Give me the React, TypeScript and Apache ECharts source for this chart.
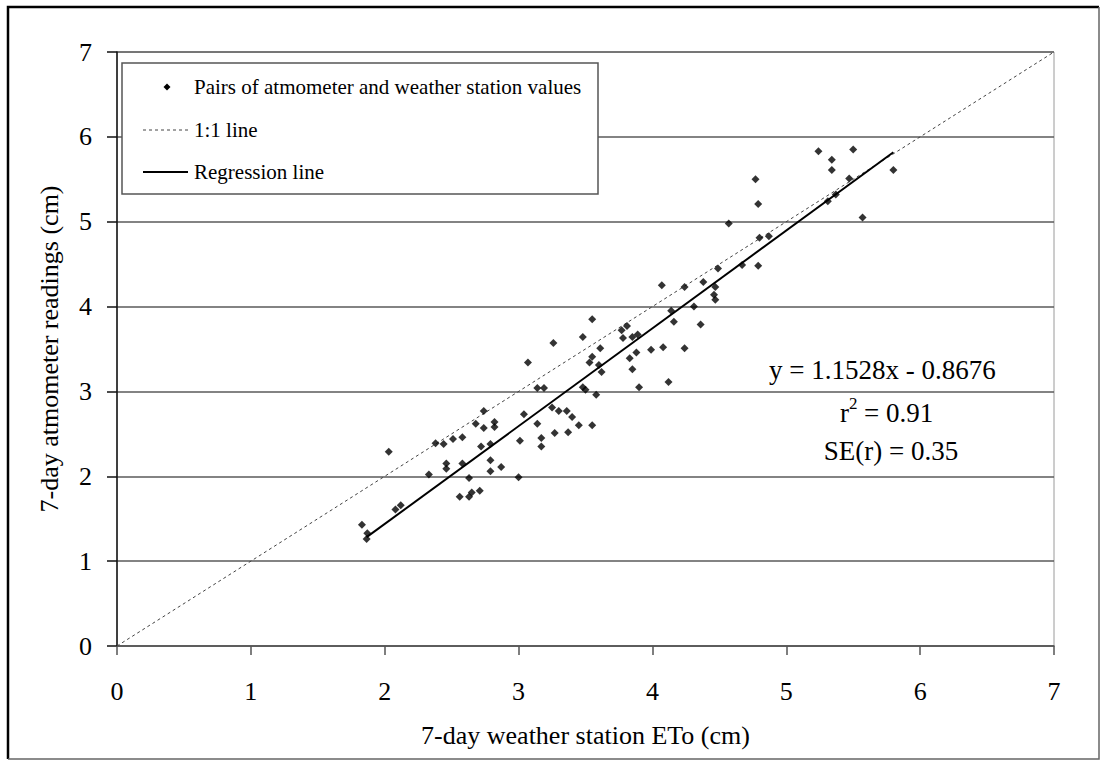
import React, { useEffect, useRef } from "react";
import * as echarts from "echarts";

// 7-day weather station ETo (cm)
const stationEto = [
  2.03, 1.83, 1.87, 1.865, 2.08, 2.12, 2.33, 2.38, 2.44, 2.46,
  2.46, 2.51, 2.58, 2.58, 2.56, 2.63, 2.63, 2.65, 2.71, 2.68,
  2.74, 2.74, 2.72, 2.79, 2.79, 2.79, 2.82, 2.82, 2.87, 3.0,
  3.01, 3.04, 3.14, 3.17, 3.17, 3.27, 3.14, 3.19, 3.25, 3.3,
  3.36, 3.37, 3.4, 3.45, 3.55, 3.55, 3.48, 3.77, 3.81, 3.78,
  3.61, 3.55, 3.53, 3.6, 3.62, 3.85, 3.89, 3.88, 3.83, 3.85,
  3.99, 4.08, 4.24, 4.12, 3.9, 3.48, 3.5, 3.58, 4.14, 4.16,
  4.31, 4.36, 4.47, 3.07, 3.26, 4.07, 4.24, 4.38, 4.47, 4.46,
  4.49, 4.57, 5.24, 5.5, 5.34, 5.34, 5.8, 4.77, 4.79, 5.47,
  5.37, 5.31, 5.57, 4.8, 4.87, 4.67, 4.79,
];
// 7-day atmometer readings (cm)
const atmometer = [
  2.29, 1.43, 1.33, 1.26, 1.61, 1.66, 2.02, 2.39, 2.38, 2.15,
  2.09, 2.44, 2.46, 2.15, 1.76, 1.98, 1.76, 1.81, 1.83, 2.62,
  2.77, 2.57, 2.35, 2.38, 2.19, 2.06, 2.64, 2.58, 2.11, 1.99,
  2.42, 2.73, 2.62, 2.45, 2.35, 2.51, 3.04, 3.04, 2.81, 2.77,
  2.77, 2.52, 2.7, 2.6, 2.6, 3.85, 3.64, 3.72, 3.77, 3.63,
  3.51, 3.41, 3.34, 3.31, 3.23, 3.64, 3.67, 3.46, 3.39, 3.26,
  3.49, 3.52, 3.51, 3.11, 3.05, 3.05, 3.02, 2.96, 3.95, 3.82,
  4.0, 3.79, 4.08, 3.34, 3.57, 4.25, 4.23, 4.29, 4.23, 4.14,
  4.45, 4.98, 5.83, 5.85, 5.73, 5.61, 5.61, 5.5, 5.21, 5.51,
  5.32, 5.24, 5.05, 4.81, 4.83, 4.49, 4.48,
];

const regSlope = 1.1528;
const regIntercept = -0.8676;
const regRangeX = [1.865, 5.8];
const oneToOneX = [0, 7];
const axisTicks = ["0", "1", "2", "3", "4", "5", "6", "7"];

const seriesNames = [
  "Pairs of atmometer and weather station values",
  "1:1 line",
  "Regression line",
];

const FONT = "Liberation Serif";

export default function App() {
  const ref = useRef<HTMLDivElement>(null);

  useEffect(() => {
    if (!ref.current) return;
    const chart = echarts.init(ref.current, null, { renderer: "svg" });

    const points = stationEto.map((x, i) => [x, atmometer[i]]);
    const regLine = regRangeX.map((x) => [x, regSlope * x + regIntercept]);
    const oneLine = oneToOneX.map((x) => [x, x]);

    const legendRows = [87, 130, 172];
    const legendText = (t: string, y: number) => ({
      type: "text",
      x: 194,
      y,
      style: {
        text: t,
        fontFamily: FONT,
        fontSize: 21,
        fill: "#000",
        textVerticalAlign: "middle",
      },
      z: 21,
    });

    chart.setOption({
      animation: false,
      backgroundColor: "#ffffff",
      textStyle: { fontFamily: FONT },
      grid: {
        left: 117,
        top: 52,
        right: 47,
        bottom: 115,
        show: true,
        borderColor: "#9a9a9a",
        borderWidth: 1,
        backgroundColor: "transparent",
      },
      xAxis: {
        type: "value",
        min: 0,
        max: 7,
        interval: 1,
        name: "7-day weather station ETo (cm)",
        nameLocation: "middle",
        nameGap: 76,
        nameTextStyle: { fontFamily: FONT, fontSize: 26, color: "#000" },
        axisLine: { show: true, lineStyle: { color: "#555", width: 1.5 } },
        axisTick: { show: true, inside: false, length: 9, lineStyle: { color: "#555", width: 1.5 } },
        axisLabel: {
          margin: 32,
          fontFamily: FONT,
          fontSize: 26,
          color: "#000",
          formatter: (v: number) => axisTicks[Math.round(v)] ?? String(v),
        },
        splitLine: { show: false },
      },
      yAxis: {
        type: "value",
        min: 0,
        max: 7,
        interval: 1,
        name: "7-day atmometer readings (cm)",
        nameLocation: "middle",
        nameGap: 55,
        nameTextStyle: { fontFamily: FONT, fontSize: 26, color: "#000" },
        axisLine: { show: true, lineStyle: { color: "#111", width: 1.5 } },
        axisTick: { show: true, inside: false, length: 10, lineStyle: { color: "#111", width: 1.5 } },
        axisLabel: {
          margin: 25,
          fontFamily: FONT,
          fontSize: 26,
          color: "#000",
          formatter: (v: number) => axisTicks[Math.round(v)] ?? String(v),
        },
        splitLine: { show: true, lineStyle: { color: "#5a5a5a", width: 1.5 } },
      },
      series: [
        {
          name: seriesNames[0],
          type: "scatter",
          data: points,
          symbol: "diamond",
          symbolSize: 8,
          itemStyle: { color: "#000" },
          z: 4,
        },
        {
          name: seriesNames[1],
          type: "line",
          data: oneLine,
          symbol: "none",
          lineStyle: { color: "#444", width: 1, type: [3, 3] },
          itemStyle: { color: "#444" },
          z: 3,
        },
        {
          name: seriesNames[2],
          type: "line",
          data: regLine,
          symbol: "none",
          lineStyle: { color: "#000", width: 2, type: "solid" },
          itemStyle: { color: "#000" },
          z: 3,
        },
      ],
      graphic: [
        {
          type: "polyline",
          shape: { points: [[8, 759], [8, 7], [1099, 7]] },
          style: { stroke: "#000", lineWidth: 2.5, fill: "none" },
          silent: true,
        },
        {
          type: "polyline",
          shape: { points: [[1099, 7], [1099, 759], [8, 759]] },
          style: { stroke: "#666", lineWidth: 1.5, fill: "none" },
          silent: true,
        },
        // legend box
        {
          type: "rect",
          shape: { x: 122, y: 63, width: 476, height: 131 },
          style: { fill: "#fff", stroke: "#555", lineWidth: 1.5 },
          z: 20,
          silent: true,
        },
        {
          type: "polygon",
          shape: { points: [[167, 83.5], [170.5, 87], [167, 90.5], [163.5, 87]] },
          style: { fill: "#000" },
          z: 21,
          silent: true,
        },
        {
          type: "line",
          shape: { x1: 143, y1: legendRows[1], x2: 188, y2: legendRows[1] },
          style: { stroke: "#444", lineWidth: 1, lineDash: [3, 3] },
          z: 21,
          silent: true,
        },
        {
          type: "line",
          shape: { x1: 143, y1: legendRows[2], x2: 188, y2: legendRows[2] },
          style: { stroke: "#000", lineWidth: 2 },
          z: 21,
          silent: true,
        },
        legendText(seriesNames[0], legendRows[0]),
        legendText(seriesNames[1], legendRows[1]),
        legendText(seriesNames[2], legendRows[2]),
        // regression statistics
        {
          type: "text",
          x: 769,
          y: 370,
          style: { text: "y = 1.1528x - 0.8676", fontFamily: FONT, fontSize: 27, fill: "#000", textVerticalAlign: "middle" },
          z: 10,
        },
        {
          type: "text",
          x: 840,
          y: 413,
          style: { text: "r", fontFamily: FONT, fontSize: 27, fill: "#000", textVerticalAlign: "middle" },
          z: 10,
        },
        {
          type: "text",
          x: 849,
          y: 403,
          style: { text: "2", fontFamily: FONT, fontSize: 17, fill: "#000", textVerticalAlign: "middle" },
          z: 10,
        },
        {
          type: "text",
          x: 864,
          y: 413,
          style: { text: "= 0.91", fontFamily: FONT, fontSize: 27, fill: "#000", textVerticalAlign: "middle" },
          z: 10,
        },
        {
          type: "text",
          x: 891,
          y: 451,
          style: {
            text: "SE(r) = 0.35",
            fontFamily: FONT,
            fontSize: 27,
            fill: "#000",
            textAlign: "center",
            textVerticalAlign: "middle",
          },
          z: 10,
        },
      ],
    });

    return () => chart.dispose();
  }, []);

  return (
    <div
      ref={ref}
      style={{ position: "fixed", left: 0, top: 0, width: 1101, height: 761, background: "#fff" }}
    />
  );
}
